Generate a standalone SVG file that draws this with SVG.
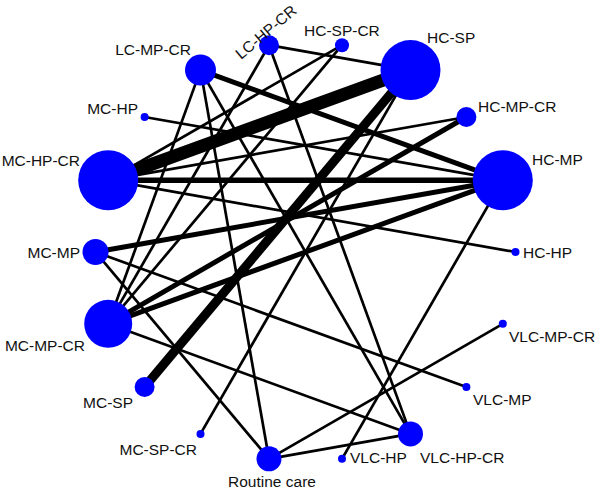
<svg xmlns="http://www.w3.org/2000/svg" width="597" height="489" viewBox="0 0 597 489">
<style>
.e{stroke:#000;stroke-width:2.7;fill:none}
.n{fill:#0000FF}
text{font-family:"Liberation Sans",Arial,sans-serif;font-size:15.5px;fill:#111}
</style>
<rect width="597" height="489" fill="#fff"/>
<g id="connectors">
<line class="e" x1="108.2" y1="180.2" x2="410.5" y2="70.1" style="stroke-width:13"/>
<line class="e" x1="144.6" y1="387" x2="410.5" y2="70.1" style="stroke-width:9"/>
<line class="e" x1="108.2" y1="180.2" x2="502.8" y2="180.2" style="stroke-width:5.5"/>
<line class="e" x1="200.5" y1="70.1" x2="502.8" y2="180.2" style="stroke-width:5"/>
<line class="e" x1="95.5" y1="252" x2="502.8" y2="180.2" style="stroke-width:5"/>
<line class="e" x1="108.2" y1="323.8" x2="502.8" y2="180.2" style="stroke-width:5"/>
<line class="e" x1="108.2" y1="323.8" x2="466.4" y2="117" style="stroke-width:5"/>
<line class="e" x1="269" y1="45.2" x2="410.5" y2="70.1"/>
<line class="e" x1="269" y1="45.2" x2="108.2" y2="323.8"/>
<line class="e" x1="269" y1="45.2" x2="410.5" y2="433.9"/>
<line class="e" x1="342" y1="45.2" x2="108.2" y2="180.2"/>
<line class="e" x1="342" y1="45.2" x2="108.2" y2="323.8"/>
<line class="e" x1="200.5" y1="70.1" x2="108.2" y2="323.8"/>
<line class="e" x1="200.5" y1="70.1" x2="269" y2="458.8"/>
<line class="e" x1="200.5" y1="70.1" x2="410.5" y2="433.9"/>
<line class="e" x1="144.6" y1="117" x2="502.8" y2="180.2"/>
<line class="e" x1="108.2" y1="180.2" x2="466.4" y2="117"/>
<line class="e" x1="108.2" y1="180.2" x2="515.5" y2="252"/>
<line class="e" x1="95.5" y1="252" x2="466.4" y2="387"/>
<line class="e" x1="95.5" y1="252" x2="269" y2="458.8"/>
<line class="e" x1="108.2" y1="323.8" x2="410.5" y2="433.9"/>
<line class="e" x1="200.5" y1="433.9" x2="410.5" y2="70.1"/>
<line class="e" x1="269" y1="458.8" x2="410.5" y2="433.9"/>
<line class="e" x1="269" y1="458.8" x2="502.8" y2="323.8"/>
<line class="e" x1="342" y1="458.8" x2="502.8" y2="180.2"/>
</g>
<g id="HC-HP"><circle class="n" cx="515.5" cy="252" r="4"/><text x="523" y="258">HC-HP</text></g>
<g id="HC-MP"><circle class="n" cx="502.8" cy="180.2" r="30"/><text x="532" y="165">HC-MP</text></g>
<g id="HC-MP-CR"><circle class="n" cx="466.4" cy="117" r="10"/><text x="478" y="112">HC-MP-CR</text></g>
<g id="HC-SP"><circle class="n" cx="410.5" cy="70.1" r="30"/><text x="427" y="43">HC-SP</text></g>
<g id="HC-SP-CR"><circle class="n" cx="342" cy="45.2" r="7"/><text x="304" y="36">HC-SP-CR</text></g>
<g id="LC-HP-CR"><circle class="n" cx="269" cy="45.2" r="10"/><text x="241" y="60" transform="rotate(-40 241 60)">LC-HP-CR</text></g>
<g id="LC-MP-CR"><circle class="n" cx="200.5" cy="70.1" r="15.5"/><text x="191" y="55" text-anchor="end">LC-MP-CR</text></g>
<g id="MC-HP"><circle class="n" cx="144.6" cy="117" r="4"/><text x="138" y="114" text-anchor="end">MC-HP</text></g>
<g id="MC-HP-CR"><circle class="n" cx="108.2" cy="180.2" r="30"/><text x="80" y="166" text-anchor="end">MC-HP-CR</text></g>
<g id="MC-MP"><circle class="n" cx="95.5" cy="252" r="13"/><text x="80" y="258" text-anchor="end">MC-MP</text></g>
<g id="MC-MP-CR"><circle class="n" cx="108.2" cy="323.8" r="24"/><text x="85" y="351" text-anchor="end">MC-MP-CR</text></g>
<g id="MC-SP"><circle class="n" cx="144.6" cy="387" r="10"/><text x="133" y="408" text-anchor="end">MC-SP</text></g>
<g id="MC-SP-CR"><circle class="n" cx="200.5" cy="433.9" r="4"/><text x="197" y="455" text-anchor="end">MC-SP-CR</text></g>
<g id="Routine-care"><circle class="n" cx="269" cy="458.8" r="12.5"/><text x="272" y="487" text-anchor="middle">Routine care</text></g>
<g id="VLC-HP"><circle class="n" cx="342" cy="458.8" r="4"/><text x="350" y="463">VLC-HP</text></g>
<g id="VLC-HP-CR"><circle class="n" cx="410.5" cy="433.9" r="12.5"/><text x="420" y="463">VLC-HP-CR</text></g>
<g id="VLC-MP"><circle class="n" cx="466.4" cy="387" r="4"/><text x="473" y="405">VLC-MP</text></g>
<g id="VLC-MP-CR"><circle class="n" cx="502.8" cy="323.8" r="4"/><text x="509" y="342">VLC-MP-CR</text></g>
</svg>
